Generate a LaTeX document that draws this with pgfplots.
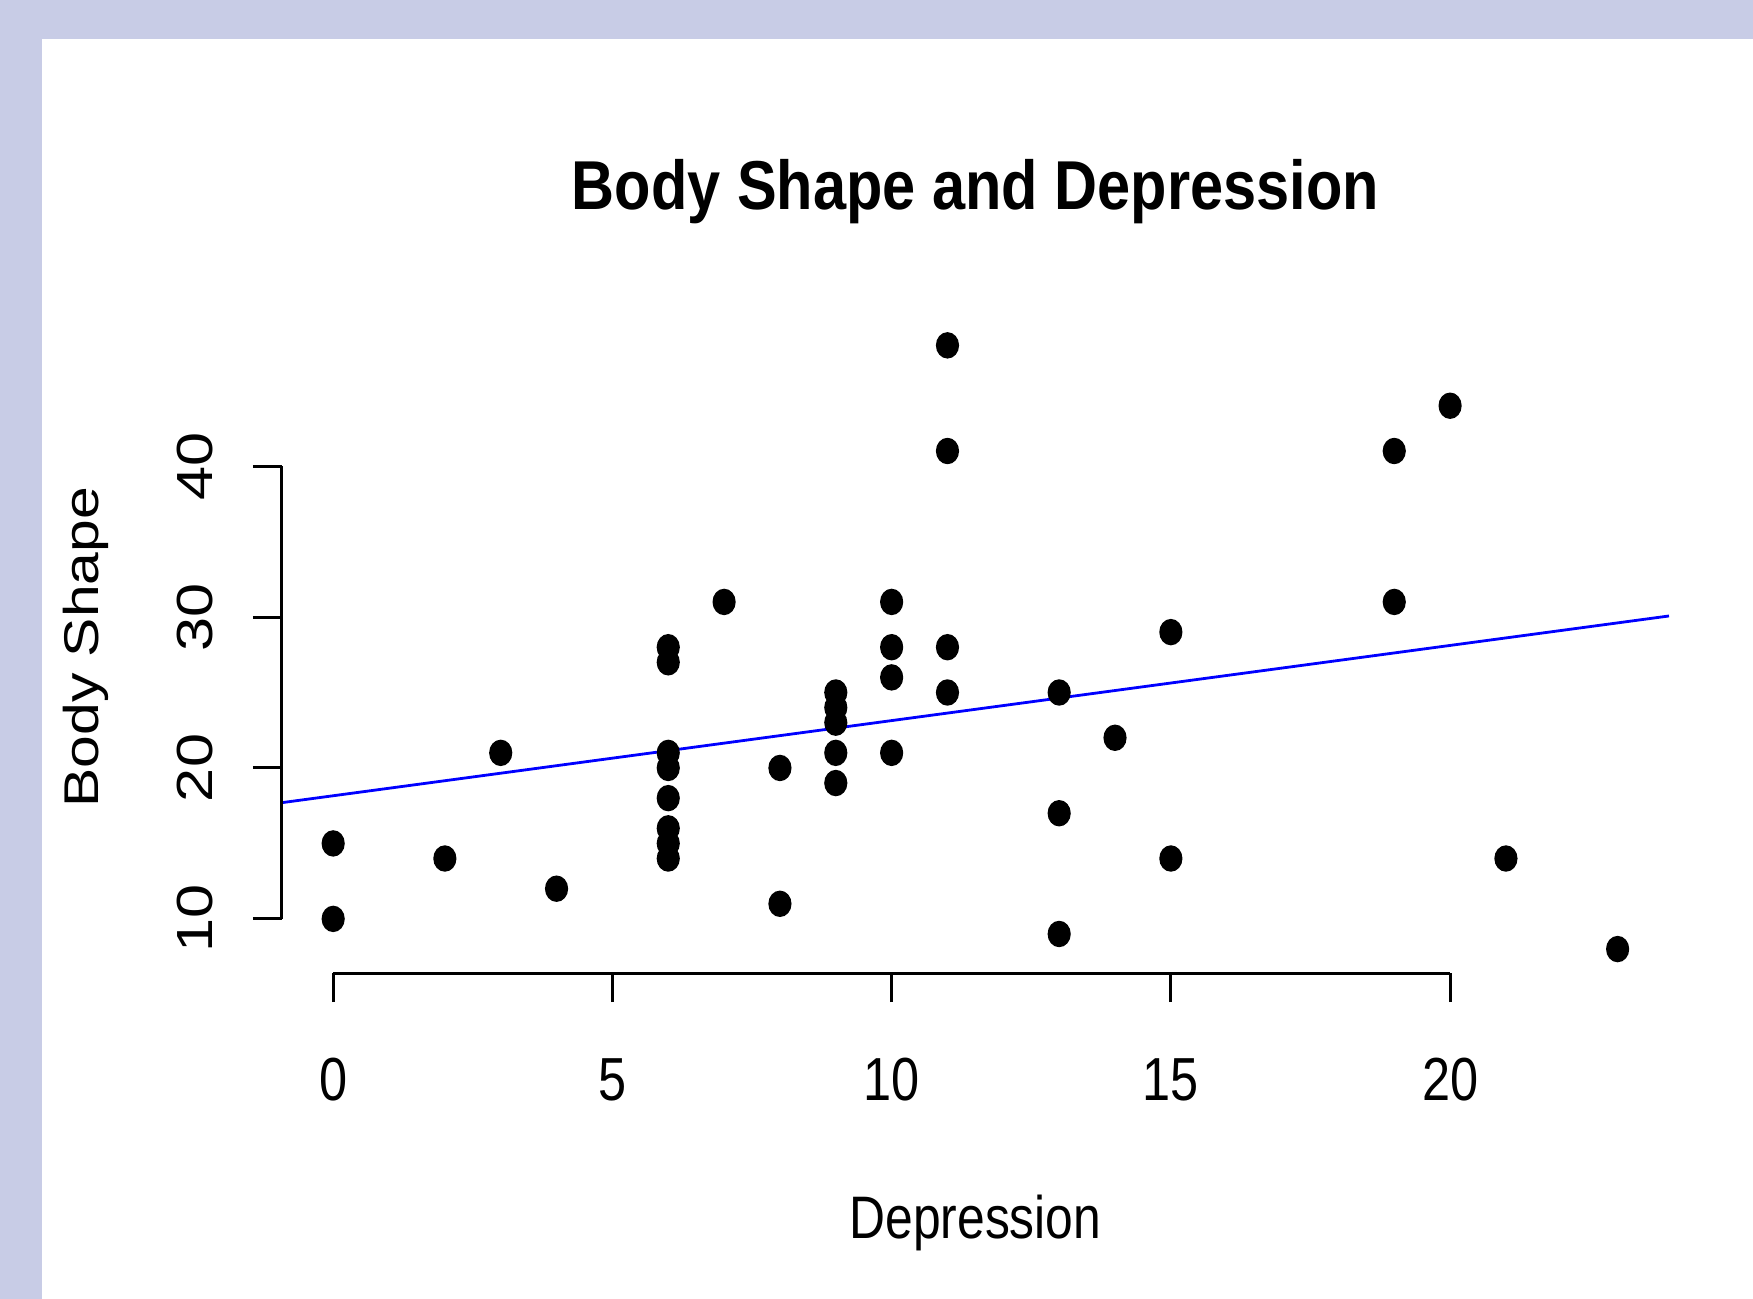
\documentclass[border=0pt]{standalone}
\usepackage{fontspec}
\setmainfont{Liberation Sans}
\newfontfamily\hfont[FakeStretch=0.83]{Liberation Sans}
\newfontfamily\tfont[FakeStretch=0.86]{Liberation Sans}
\newfontfamily\vfont[FakeStretch=1.205]{Liberation Sans}
\usepackage{pgfplots}
\pgfplotsset{compat=1.18}
\definecolor{lav}{RGB}{200,204,230}
\begin{document}
\begin{tikzpicture}
\path[use as bounding box] (-70.45pt,-81.4pt) rectangle (367.8pt,243.3pt);
\fill[lav] (-70.45pt,-81.4pt) rectangle (367.8pt,243.3pt);
\fill[white] (-59.95pt,-81.4pt) rectangle (367.8pt,233.6pt);
\begin{axis}[
  at={(0pt,0pt)}, anchor=south west,
  scale only axis, width=346.8pt, height=163pt,
  xmin=-0.92, xmax=23.92, ymin=6.4, ymax=49.6,
  axis line style={draw=none},
  clip=false,
  xtick={0,5,10,15,20}, ytick={10,20,30,40},
  xtick pos=left, ytick pos=left,
  tick align=outside,
  major tick length=7.2pt,
  tick style={black, line width=0.75pt},
  /pgf/number format/assume math mode=true,
  xticklabel style={font=\hfont\fontsize{15.2}{15.2}\selectfont, anchor=base, yshift=-24.7pt},
  yticklabel style={font=\vfont\fontsize{12.7}{12.7}\selectfont, rotate=90, anchor=base, yshift=10.1pt},
  title={Body Shape and Depression},
  title style={font=\tfont\bfseries\fontsize{17.3}{17.3}\selectfont, at={(axis description cs:0.5,1)}, anchor=base, yshift=22pt},
  xlabel={Depression},
  xlabel style={font=\hfont\fontsize{15}{15}\selectfont, at={(axis description cs:0.5,0)}, anchor=base, yshift=-66.4pt},
  ylabel={Body Shape},
  ylabel style={font=\vfont\fontsize{12.2}{12.2}\selectfont, at={(axis description cs:0,0.5)}, anchor=base, yshift=45.9pt},
]
\addplot[only marks, mark=*, mark size=3.1pt, mark options={xscale=0.87, fill=black, draw=black}] coordinates {
 (0,15) (0,10) (2,14) (3,21) (4,12)
 (6,28) (6,27) (6,21) (6,20) (6,18) (6,16) (6,15) (6,14)
 (7,31) (8,20) (8,11)
 (9,25) (9,24) (9,23) (9,21) (9,19)
 (10,31) (10,28) (10,26) (10,21)
 (11,48) (11,41) (11,28) (11,25)
 (13,25) (13,17) (13,9) (14,22) (15,29) (15,14)
 (19,41) (19,31) (20,44) (21,14) (23,8)
};
\addplot[color={rgb,255:red,0;green,0;blue,255}, line width=0.7pt] coordinates {(-0.92,17.70) (23.92,30.07)};
\draw[line width=0.75pt] (axis cs:0,6.4) -- (axis cs:20,6.4);
\draw[line width=0.75pt] (axis cs:-0.92,10) -- (axis cs:-0.92,40);
\end{axis}
\end{tikzpicture}
\end{document}
